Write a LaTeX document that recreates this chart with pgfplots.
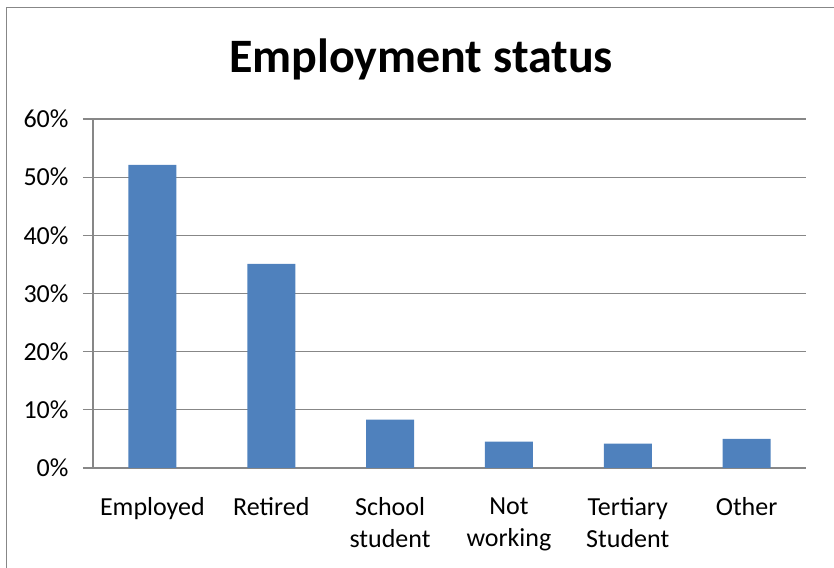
\documentclass[border=0pt]{standalone}
\usepackage{fontspec}
\setmainfont{Carlito}
\usepackage{pgfplots}
\pgfplotsset{compat=1.18}
\definecolor{barblue}{HTML}{4F81BD}
\definecolor{gridgrey}{HTML}{878787}

\begin{document}
\begin{tikzpicture}[x=1pt,y=1pt]
\useasboundingbox (0,0) rectangle (834,567);
% chart frame (left and top edges visible)
\draw[gridgrey, line width=1.2pt] (6.5,-5) -- (6.5,559.5) -- (840,559.5);
\node[anchor=base, font=\fontsize{48}{52}\selectfont\bfseries] at (421,494) {Employment status};
\begin{axis}[
    at={(93pt,99pt)}, anchor=south west,
    scale only axis,
    width=713pt, height=349pt,
    ybar, bar width=48pt,
    xmin=-0.5, xmax=5.5,
    ymin=0, ymax=60,
    xtick={0,...,5},
    xticklabels={Employed, Retired, School\\student, Not\\working, Tertiary\\Student, Other},
    minor xtick={-0.5,0.5,...,5.5},
    ytick={0,10,...,60},
    yticklabel={\pgfmathprintnumber{\tick}\%},
    /pgf/number format/assume math mode=true,
    axis lines*=left,
    axis line style={gridgrey, line width=1.2pt, -},
    ymajorgrids,
    grid style={gridgrey, line width=1.2pt},
    tick align=outside,
    major tick length=10pt, minor tick length=10pt,
    xtick style={draw=none},
    minor x tick style={gridgrey, line width=1.2pt},
    ytick style={gridgrey, line width=1.2pt},
    ticklabel style={font=\fontsize{26}{32}\selectfont},
    xticklabel style={align=center, anchor=north, yshift=-16pt},
    yticklabel style={anchor=east, xshift=-11pt},
]
\addplot[fill=barblue, draw=none] coordinates {
    (0,52.1) (1,35.1) (2,8.3) (3,4.55) (4,4.2) (5,5.0)
};
\end{axis}
\end{tikzpicture}
\end{document}
